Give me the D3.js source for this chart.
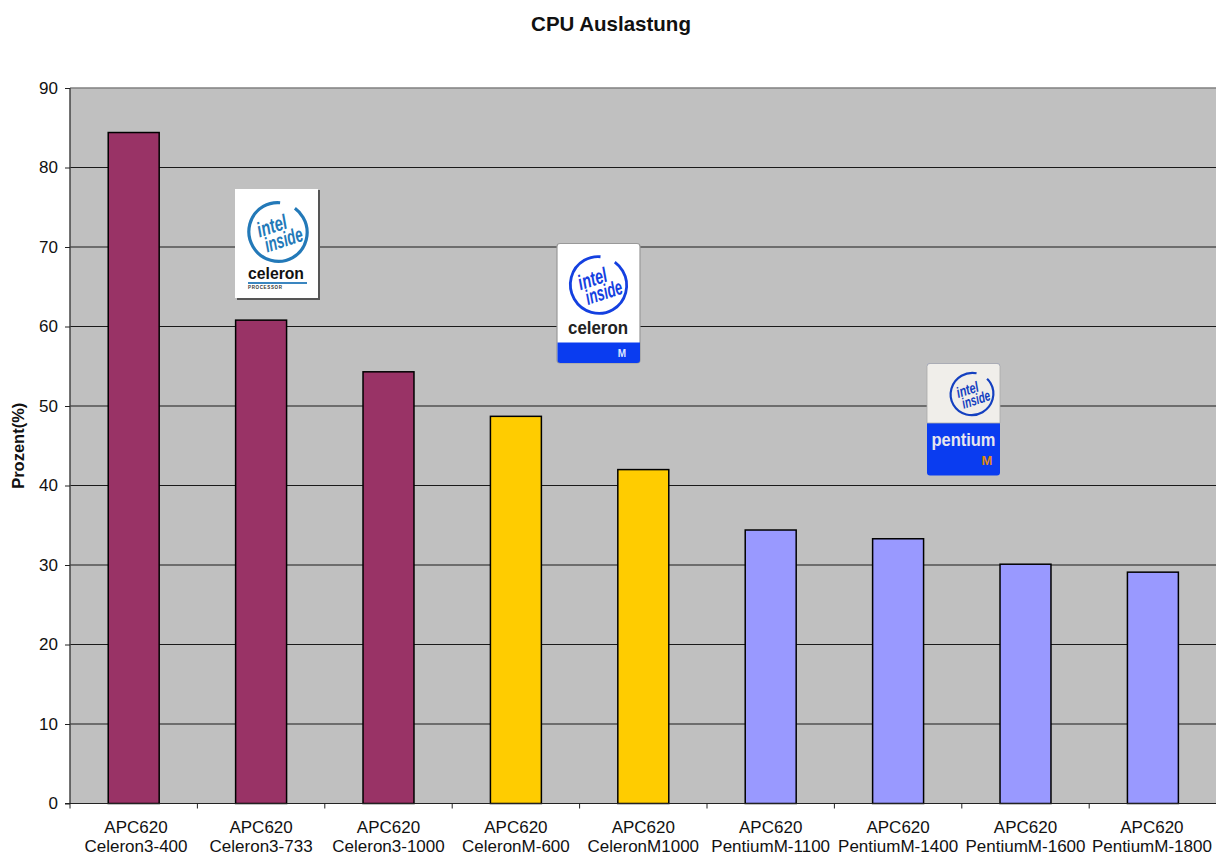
<!DOCTYPE html>
<html><head><meta charset="utf-8">
<script src="https://cdn.jsdelivr.net/npm/d3@7"></script>
<style>html,body{margin:0;padding:0;background:#fff;overflow:hidden}svg{display:block}text{font-family:"Liberation Sans",Arial,sans-serif;fill:#111}</style>
</head><body><svg id="c" width="1216" height="856"></svg>
<script>
const categories=["Celeron3-400","Celeron3-733","Celeron3-1000","CeleronM-600","CeleronM1000","PentiumM-1100","PentiumM-1400","PentiumM-1600","PentiumM-1800"];
const prefix="APC620";
const values=[84.4,60.8,54.3,48.7,42.0,34.4,33.3,30.1,29.1];
const groups=["c3","c3","c3","cm","cm","pm","pm","pm","pm"];
const yTicks=[0,10,20,30,40,50,60,70,80,90];
const groupColors={c3:"#993366",cm:"#ffcc00",pm:"#9999ff"};
const title="CPU Auslastung", yTitle="Prozent(%)";

const svg=d3.select("#c");
const L=70,R=1216.6,T=88,B=803.5;
const x=d3.scaleBand().domain(categories).range([L,R]).paddingInner(0).paddingOuter(0);
const y=d3.scaleLinear().domain([0,90]).range([B,T]);
const barW=x.bandwidth()*0.4;

svg.append("rect").attr("x",L).attr("y",T).attr("width",R-L).attr("height",B-T).attr("fill","#c0c0c0");
svg.append("g").selectAll("line").data(yTicks.filter(d=>d>0&&d<90)).join("line")
  .attr("x1",L).attr("x2",R).attr("y1",d=>y(d)).attr("y2",d=>y(d)).attr("stroke","#1a1a1a").attr("stroke-width",1);
svg.append("line").attr("x1",L).attr("x2",R).attr("y1",T).attr("y2",T).attr("stroke","#808080").attr("stroke-width",1.5);

svg.append("g").selectAll("rect").data(values).join("rect")
  .attr("x",(d,i)=>x(categories[i])+x.bandwidth()/2-barW/2)
  .attr("y",d=>y(d)).attr("width",barW).attr("height",d=>B-y(d))
  .attr("fill",(d,i)=>groupColors[groups[i]]).attr("stroke","#000").attr("stroke-width",1.5);

const ya=svg.append("g").attr("transform",`translate(${L},0)`).call(d3.axisLeft(y).tickValues(yTicks).tickSize(5).tickPadding(7));
ya.select(".domain").attr("stroke","#444").attr("stroke-width",1.5).attr("d",`M0,${T}V${B}`);
ya.selectAll("line").attr("stroke","#222");
ya.selectAll("text").style("font-size","17px").attr("fill","#111");

const xa=svg.append("g").attr("transform",`translate(0,${B})`);
xa.append("line").attr("x1",L-5).attr("x2",R).attr("stroke","#222").attr("stroke-width",1.2);
xa.selectAll(".t").data(categories).join("line").attr("class","t")
  .attr("x1",d=>x(d)).attr("x2",d=>x(d)).attr("y1",0).attr("y2",5).attr("stroke","#222");
const labelShift=[2.3,0,0,0,0,0,0,0,-1];
xa.selectAll(".l1").data(categories).join("text").attr("class","l1").attr("text-anchor","middle").style("font-size","17px")
  .attr("x",(d,i)=>x(d)+x.bandwidth()/2+labelShift[i]).attr("y",29.5).text(prefix);
xa.selectAll(".l2").data(categories).join("text").attr("class","l2").attr("text-anchor","middle").style("font-size","17px")
  .attr("x",(d,i)=>x(d)+x.bandwidth()/2+labelShift[i]).attr("y",48.6).text(d=>d);

svg.append("text").attr("x",611).attr("y",31).attr("text-anchor","middle").style("font-size","20.5px").style("font-weight","bold").text(title);
svg.append("text").attr("transform",`translate(24,${(T+B)/2}) rotate(-90)`).attr("text-anchor","middle").style("font-size","16.5px").style("font-weight","bold").text(yTitle);

// Logos
function squeezed(p,tx,ty,txt,fs,len,col){
  p.append("text").attr("x",tx).attr("y",ty).attr("text-anchor","middle").attr("textLength",len).attr("lengthAdjust","spacingAndGlyphs")
   .style("font-size",fs+"px").style("font-weight","bold").style("font-style","italic").style("fill",col).text(txt);
}
function badge(g,cx,cy,rx,ry,col,fs,sw){
  g.append("ellipse").attr("cx",cx).attr("cy",cy).attr("rx",rx).attr("ry",ry).attr("fill","none").attr("stroke",col).attr("stroke-width",sw)
   .attr("stroke-dasharray",`${rx*5.35} ${rx*0.55}`).attr("transform",`rotate(-30 ${cx} ${cy})`);
  const t=g.append("g").attr("transform",`rotate(-18 ${cx} ${cy})`);
  squeezed(t,cx-rx*0.14,cy-ry*0.02,"intel",fs,rx*1.05,col);
  squeezed(t,cx+rx*0.1,cy+ry*0.55,"inside",fs,rx*1.35,col);
}
// Celeron logo
let g=svg.append("g");
g.append("rect").attr("x",237).attr("y",190).attr("width",83).attr("height",110).attr("fill","#555");
g.append("rect").attr("x",235).attr("y",189).attr("width",83).attr("height",109).attr("fill","#fff");
badge(g,278,232,29,29.5,"#2379b8",21,3.2);
g.append("text").attr("x",248).attr("y",279).attr("textLength",56).attr("lengthAdjust","spacingAndGlyphs").style("font-size","17px").style("font-weight","bold").style("fill","#111").text("celeron");
g.append("rect").attr("x",248).attr("y",282).attr("width",59).attr("height",2).attr("fill","#3a86c0");
g.append("text").attr("x",248).attr("y",289).style("font-size","4.5px").style("font-weight","bold").style("fill","#333").attr("textLength",34).text("PROCESSOR");

// Celeron M logo
g=svg.append("g");
g.append("rect").attr("x",557).attr("y",243.5).attr("width",83).attr("height",119.5).attr("rx",3).attr("fill","#fff").attr("stroke","#999").attr("stroke-width",1.2);
g.append("path").attr("d","M557.5,342.5H640V360a3,3 0 0 1 -3,3H560.5a3,3 0 0 1 -3,-3Z").attr("fill","#0a3cf0");
badge(g,598.5,285,28,28.5,"#1440e0",21,2.8);
g.append("text").attr("x",598).attr("y",334).attr("text-anchor","middle").attr("textLength",60).attr("lengthAdjust","spacingAndGlyphs").style("font-size","18.5px").style("fill","#222").style("font-weight","bold").text("celeron");
g.append("text").attr("x",622).attr("y",357).attr("text-anchor","middle").style("font-size","10px").style("font-weight","bold").style("fill","#dfe6ff").text("M");

// Pentium M logo
g=svg.append("g");
g.append("rect").attr("x",927).attr("y",363.5).attr("width",73).attr("height",112).attr("rx",3).attr("fill","#0a3cf0");
g.append("path").attr("d","M927,423V366.5a3,3 0 0 1 3,-3H997a3,3 0 0 1 3,3V423Z").attr("fill","#f0eeea").attr("stroke","#aaa").attr("stroke-width",.8);
badge(g,972,394,21.5,21,"#1440c0",15,2.2);
g.append("text").attr("x",963.5).attr("y",446).attr("text-anchor","middle").attr("textLength",64).attr("lengthAdjust","spacingAndGlyphs").style("font-size","17.5px").style("font-weight","bold").style("fill","#e6e6ee").text("pentium");
g.append("text").attr("x",987).attr("y",465).attr("text-anchor","middle").style("font-size","13px").style("font-weight","bold").style("fill","#e08a10").text("M");
</script></body></html>
